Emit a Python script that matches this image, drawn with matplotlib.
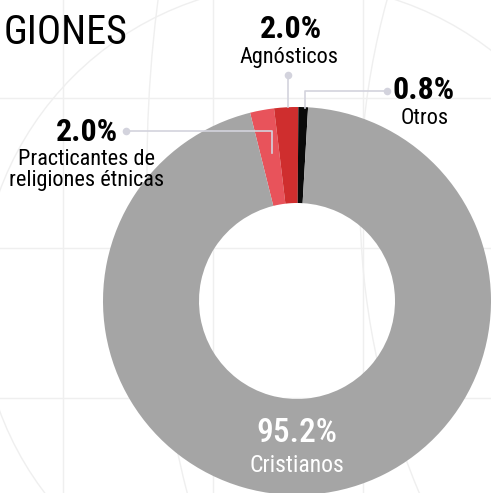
import matplotlib
matplotlib.use("Agg")
import matplotlib.pyplot as plt
from matplotlib import font_manager
from matplotlib.patches import Circle

# data
labels = ["Practicantes de\nreligiones étnicas", "Agnósticos", "Otros", "Cristianos"]
values = [2.0, 2.0, 0.8, 95.2]
pct_text = ["2.0%", "2.0%", "0.8%", "95.2%"]
colors = ["#E8535B", "#CF2E2E", "#0A0A0A", "#A5A5A5"]
title = "GIONES"

# look for a narrow font, the original uses a tall condensed face
fonts = font_manager.fontManager.ttflist
names = {f.name for f in fonts}
font, stretch = "Roboto", "normal"
narrow = sorted(n for n in names if "Narrow" in n or "Condensed" in n)
for cand in ["Roboto Condensed", "Liberation Sans Narrow", "Open Sans Condensed"] + narrow:
    if cand in names:
        font = cand
        break
else:
    for f in fonts:
        if f.name in ("Roboto", "Open Sans", "Noto Sans", "DejaVu Sans") and f.stretch in ("condensed", "semi-condensed", "extra-condensed"):
            font, stretch = f.name, f.stretch
            break
plt.rcParams["font.family"] = [font, "DejaVu Sans"]
plt.rcParams["font.stretch"] = stretch

W, H = 491, 493
fig = plt.figure(figsize=(W / 100, H / 100), dpi=100)
ax = fig.add_axes([0, 0, 1, 1])

def Y(y):
    return H - y

# faint background grid and circles
grid_c = "#EFEFEF"
for gx in [63, 213, 363]:
    ax.axvline(gx, color=grid_c, lw=1, zorder=0)
for gy in [98, 248, 398]:
    ax.axhline(Y(gy), color=grid_c, lw=1, zorder=0)
for cx, cy, r in [(1466, 170, 1319), (1114, 200, 754), (297, 301, 317)]:
    ax.add_patch(Circle((cx, Y(cy)), r, fill=False, ec=grid_c, lw=1, zorder=0))

# donut
cx, cy, R = 297, 301, 194
ax.pie(values, colors=colors, startangle=104, counterclock=False,
       center=(cx, Y(cy)), radius=R,
       wedgeprops=dict(width=96, edgecolor="none", linewidth=0))

# leader lines
lc = "#D3D3DD"
ax.plot([126, 272, 272], [Y(131), Y(131), Y(153)], color=lc, lw=1.2, zorder=3)
ax.plot([288, 288], [Y(75), Y(107)], color=lc, lw=1.2, zorder=3)
ax.plot([387, 305, 305], [Y(91), Y(91), Y(108)], color=lc, lw=1.2, zorder=3)
ax.scatter([126, 288, 387], [Y(131), Y(75), Y(91)], s=30, color=lc, zorder=4, linewidths=0)

# labels
ax.text(87, Y(132), pct_text[0], ha="center", va="center", fontsize=23, fontweight="bold")
ax.text(87, Y(170), labels[0], ha="center", va="center", fontsize=16, linespacing=1.0)
ax.text(291, Y(29), pct_text[1], ha="center", va="center", fontsize=23, fontweight="bold")
ax.text(289, Y(58), labels[1], ha="center", va="center", fontsize=16)
ax.text(424, Y(90), pct_text[2], ha="center", va="center", fontsize=23, fontweight="bold")
ax.text(425, Y(118), labels[2], ha="center", va="center", fontsize=16)
ax.text(297, Y(433), pct_text[3], ha="center", va="center", fontsize=24, color="white", fontweight="medium")
ax.text(297, Y(465), labels[3], ha="center", va="center", fontsize=17, color="white")

ax.text(128, Y(33), title, ha="right", va="center", fontsize=29)

ax.set_xlim(0, W)
ax.set_ylim(0, H)
ax.set_aspect("equal")
ax.axis("off")

fig.savefig("out.png", dpi=100, facecolor="white")
